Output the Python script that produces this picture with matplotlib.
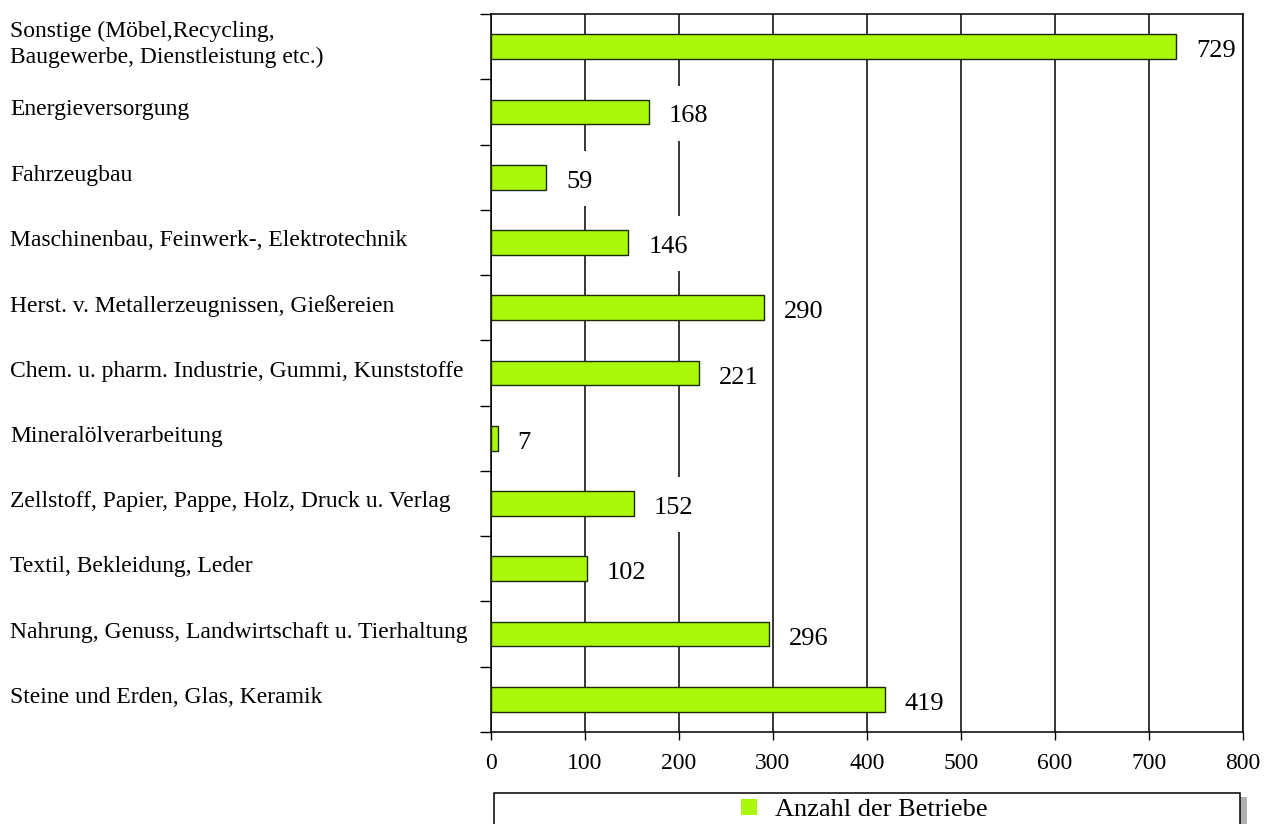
import numpy as np
import matplotlib.pyplot as plt
from matplotlib.patches import Rectangle, Patch
from matplotlib.transforms import blended_transform_factory

categories = [
    'Sonstige (Möbel,Recycling,\nBaugewerbe, Dienstleistung etc.)',
    'Energieversorgung',
    'Fahrzeugbau',
    'Maschinenbau, Feinwerk-, Elektrotechnik',
    'Herst. v. Metallerzeugnissen, Gießereien',
    'Chem. u. pharm. Industrie, Gummi, Kunststoffe',
    'Mineralölverarbeitung',
    'Zellstoff, Papier, Pappe, Holz, Druck u. Verlag',
    'Textil, Bekleidung, Leder',
    'Nahrung, Genuss, Landwirtschaft u. Tierhaltung',
    'Steine und Erden, Glas, Keramik',
]
betriebe = [729, 168, 59, 146, 290, 221, 7, 152, 102, 296, 419]
series_name = 'Anzahl der Betriebe'
x_ticks = [0, 100, 200, 300, 400, 500, 600, 700, 800]

plt.rcParams['font.family'] = ['Liberation Serif', 'DejaVu Serif']

W, H = 1268, 824
fig = plt.figure(figsize=(W / 100, H / 100), dpi=100)
ax = fig.add_axes([491 / W, (H - 732) / H, 752 / W, 718 / H])

bar_color = '#aaf80a'
y = np.arange(len(categories))
ax.barh(y, betriebe, height=0.38, color=bar_color, edgecolor='#1a2a00',
        linewidth=1, zorder=3)
ax.set_ylim(len(categories) - 0.5, -0.5)
ax.set_xlim(0, 800)

# vertical grid lines
ax.set_xticks(x_ticks)
ax.set_xticklabels([str(t) for t in x_ticks], fontsize=17)
ax.xaxis.grid(True, color='black', linewidth=1.1, zorder=1)
ax.set_axisbelow(True)
ax.tick_params(axis='x', direction='out', length=6, width=1, pad=9)

# y ticks only at the boundaries between categories
ax.set_yticks([])
ax.set_yticks(np.arange(-0.5, len(categories)), minor=True)
ax.tick_params(axis='y', which='minor', direction='out', length=8, width=1)
ax.yaxis.set_tick_params(which='minor', labelleft=False)

for s in ax.spines.values():
    s.set_linewidth(1.1)

# category labels, left aligned at figure edge
trans = blended_transform_factory(fig.transFigure, ax.transData)
for yi, lab in zip(y, categories):
    ax.text(10 / W, yi - 0.03, lab, transform=trans, ha='left', va='center',
            fontsize=17, linespacing=1.3, clip_on=False)

# value labels; a white block behind each hides the grid line
off = 20 * 800 / 752
for yi, v in zip(y, betriebe):
    s = str(v)
    tw = len(s) * 13.6
    ax.add_patch(Rectangle((v + off - 2, yi - 0.4), tw + 4, 0.84,
                           facecolor='white', edgecolor='none', zorder=2))
    ax.text(v + off, yi + 0.07, s, ha='left', va='center', fontsize=19,
            zorder=4)

# legend box at the bottom, cut by the figure edge
shadow = Rectangle((1240 / W, -0.05), 7 / W, (H - 797) / H + 0.05,
                   transform=fig.transFigure, facecolor='#b0b0b0',
                   edgecolor='none', clip_on=False)
box = Rectangle((494 / W, -0.05), 746 / W, (H - 793) / H + 0.05,
                transform=fig.transFigure, facecolor='white',
                edgecolor='black', linewidth=1.1, clip_on=False)
fig.patches.extend([shadow, box])
fig.legend(handles=[Patch(facecolor=bar_color, edgecolor='none', label=series_name)],
           loc='center left', bbox_to_anchor=(741 / W, (H - 810) / H),
           frameon=False, fontsize=19, handlelength=0.6, handleheight=0.6,
           handletextpad=0.7, borderpad=0, borderaxespad=0)

fig.savefig('out.png', dpi=100)
